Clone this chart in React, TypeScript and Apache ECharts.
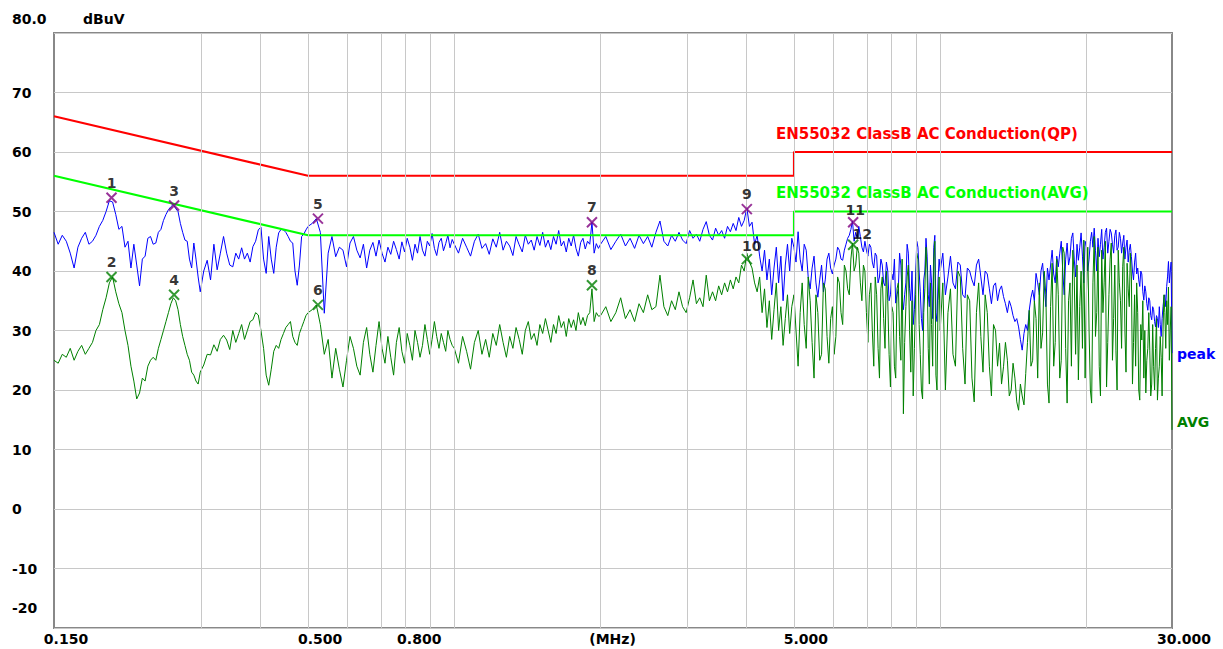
import React, { useEffect, useRef } from "react";
import * as echarts from "echarts";

// ---- sweep frequencies (MHz), listed per band ----
const sweepA = [0.150,0.153,0.156,0.159,0.162,0.165,0.168,0.171,0.174,0.177,0.180,0.183,0.186,0.189,0.192,0.195,0.198,0.201,0.204,0.207,0.210,0.213,0.216,0.219,0.222,0.225,0.228,0.231,0.234,0.237,0.240,0.243,0.246,0.249,0.252,0.255,0.258,0.261,0.264,0.267,0.270,0.273,0.276,0.279,0.282,0.285,0.288,0.291,0.294,0.297];
const sweepB = [0.300,0.305,0.310,0.315,0.320,0.325,0.330,0.335,0.340,0.345,0.350,0.355,0.360,0.365,0.370,0.375,0.380,0.385,0.390,0.395,0.400,0.405,0.410,0.415,0.420,0.425,0.430,0.435,0.440,0.445,0.450,0.455,0.460,0.465,0.470,0.475,0.480,0.485,0.490,0.495];
const sweepC = [0.50,0.51,0.52,0.53,0.54,0.55,0.56,0.57,0.58,0.59,0.60,0.61,0.62,0.63,0.64,0.65,0.66,0.67,0.68,0.69,0.70,0.71,0.72,0.73,0.74,0.75,0.76,0.77,0.78,0.79,0.80,0.81,0.82,0.83,0.84,0.85,0.86,0.87,0.88,0.89,0.90,0.91,0.92,0.93,0.94,0.95,0.96,0.97,0.98,0.99];
const sweepD = [1.00,1.02,1.04,1.06,1.08,1.10,1.12,1.14,1.16,1.18,1.20,1.22,1.24,1.26,1.28,1.30,1.32,1.34,1.36,1.38,1.40,1.42,1.44,1.46,1.48,1.50,1.52,1.54,1.56,1.58,1.60,1.62,1.64,1.66,1.68,1.70,1.72,1.74,1.76,1.78,1.80,1.82,1.84,1.86,1.88,1.90,1.92,1.94,1.96,1.98];
const sweepE = [2.00,2.05,2.10,2.15,2.20,2.25,2.30,2.35,2.40,2.45,2.50,2.55,2.60,2.65,2.70,2.75,2.80,2.85,2.90,2.95,3.00,3.05,3.10,3.15,3.20,3.25,3.30,3.35,3.40,3.45,3.50,3.55,3.60,3.65,3.70,3.75,3.80,3.85,3.90,3.95,4.00,4.05,4.10,4.15,4.20,4.25,4.30,4.35,4.40,4.45,4.50,4.55,4.60,4.65,4.70,4.75,4.80,4.85,4.90,4.95];
const sweepF = [
  5.00,5.05,5.10,5.15,5.20,5.25,5.30,5.35,5.40,5.45,
  5.50,5.55,5.60,5.65,5.70,5.75,5.80,5.85,5.90,5.95,
  6.00,6.05,6.10,6.15,6.20,6.25,6.30,6.35,6.40,6.45,
  6.50,6.55,6.60,6.65,6.70,6.75,6.80,6.85,6.90,6.95,
  7.00,7.05,7.10,7.15,7.20,7.25,7.30,7.35,7.40,7.45,
  7.50,7.55,7.60,7.65,7.70,7.75,7.80,7.85,7.90,7.95,
  8.00,8.05,8.10,8.15,8.20,8.25,8.30,8.35,8.40,8.45,
  8.50,8.55,8.60,8.65,8.70,8.75,8.80,8.85,8.90,8.95,
  9.00,9.05,9.10,9.15,9.20,9.25,9.30,9.35,9.40,9.45,
  9.50,9.55,9.60,9.65,9.70,9.75,9.80,9.85,9.90,9.95];
const sweepG = [
  10,10.125,10.25,10.375,10.5,10.625,10.75,10.875,
  11,11.125,11.25,11.375,11.5,11.625,11.75,11.875,
  12,12.125,12.25,12.375,12.5,12.625,12.75,12.875,
  13,13.125,13.25,13.375,13.5,13.625,13.75,13.875,
  14,14.125,14.25,14.375,14.5,14.625,14.75,14.875,
  15,15.125,15.25,15.375,15.5,15.625,15.75,15.875,
  16,16.125,16.25,16.375,16.5,16.625,16.75,16.875,
  17,17.125,17.25,17.375,17.5,17.625,17.75,17.875,
  18,18.125,18.25,18.375,18.5,18.625,18.75,18.875,
  19,19.125,19.25,19.375,19.5,19.625,19.75,19.875,
  20,20.125,20.25,20.375,20.5,20.625,20.75,20.875,
  21,21.125,21.25,21.375,21.5,21.625,21.75,21.875,
  22,22.125,22.25,22.375,22.5,22.625,22.75,22.875,
  23,23.125,23.25,23.375,23.5,23.625,23.75,23.875,
  24,24.125,24.25,24.375,24.5,24.625,24.75,24.875,
  25,25.125,25.25,25.375,25.5,25.625,25.75,25.875,
  26,26.125,26.25,26.375,26.5,26.625,26.75,26.875,
  27,27.125,27.25,27.375,27.5,27.625,27.75,27.875,
  28,28.125,28.25,28.375,28.5,28.625,28.75,28.875,
  29,29.125,29.25,29.375,29.5,29.625,29.75,29.875,
  30];

// ---- peak detector trace (dBuV) ----
const peakA = [46.5,44.5,46,45,43,40.5,44,45.5,46.5,44.5,45,46,47.5,48.5,50,51.8,51.6,49.5,47,47.5,44,45,40.5,44.5,41,37.5,42,42.5,45.5,45.8,44.5,44.7,46.5,47,48.5,49.5,50.3,50.8,51.2,50.5,50,48,46.5,45.2,45,42,40.5,44.7,42,39];
const peakB = [36.5,40,41.8,38.5,44.5,40.2,43,45.8,43,41,40.7,43,42,43.9,42,43,41.5,44.1,45,46.9,47.4,42,39.6,45.8,42,39.6,44,46.4,47,46.9,46.5,45.8,45,44.7,40,37.6,41,45.8,46.2,46.9];
const peakC = [47.5,48,48.8,46.5,32.9,43,45.8,42.4,44,43.5,40.7,44.7,45.8,43.5,42.2,44.5,40.5,43.5,44.8,42.5,45.2,43,41.5,44,42.8,45,43.6,42,44.9,43.2,45.5,44,41.8,44.5,43,45.8,43.5,42.5,45,44.2,46.3,43.8,42.6,44.8,45.5,43.4,44.6,46,43.9,45.3];
const peakD = [44.5,43,45.5,44,42.5,45,46.2,43.8,44.6,42.8,45.4,44,46.5,43.5,45,44.2,42.6,45.8,44.4,43.2,46,44.5,45.2,43.5,45.8,44.3,46.5,44,45.2,43.6,45.8,44.5,46.8,44.2,45,43.2,45.5,44.2,46,43.8,42.5,44.8,45.5,43.7,45,44.5,48.2,43,44.6,43.8];
const peakE = [44.5,45.8,43.6,45,46.2,44.2,45.5,43.8,46,44.6,45.8,44,46.5,48.4,45,44.2,46,45,46.5,45.2,44.6,46.8,45.5,46.2,45,47,48.3,46,45.2,47.2,46,46.8,45.5,47.5,46.6,48,46.8,49,47.5,48.5,50.6,47.5,48.2,44.5,46,42.5,40,43.5,38.5,42,36,40.5,44,38,42.5,35,41,44.5,40,45.5];
const peakF = [
  44,41.5,46.6,42,40,44.5,43.5,39,37,40.5,
  42.5,38,35.6,38.5,41,36.5,38.5,42,43,40.5,
  39.5,41,42,44,43.5,42,41.8,43.5,44.5,45.5,
  46,47,48.4,45,46.5,45.5,47.5,45.8,44,43.2,
  45,43.5,42.5,44.5,44,41.5,40.5,43,42.5,38,
  39,42,41,38,37.5,41.5,40,35,36,39.5,
  38.5,42,34.6,36,37,43,41,35.5,33.5,36,
  38,44.5,43,37,35,40,31,33.5,39,45,
  44,40,36.5,32,30,38.5,40,45.5,42.5,36,
  34,41,38,32,44,46,33,31.5,38.5,42];
const peakG = [
  40,43,36,39,42.5,38,37,41.5,41,36,
  35.5,40.5,40,38.5,37.5,41,42,39,36,40,
  39.5,37,34.5,37.5,38,35,36.8,37.5,35.7,34.5,
  33,35,34,32.5,31.5,32,30.6,28.5,26.7,29.5,
  31,30,33.4,35.5,36.8,35,39.6,38,36,40,
  41.3,37.5,34,40.5,38.5,41,43.5,39.5,38,42.5,
  40.7,43,45,40,36,42,44.7,41,42.4,45.5,
  46.4,42,39,44.5,41.8,44,46.4,42.5,38,45,
  44.1,40,42,45,46.5,44,47.2,43.5,40,45.5,
  42.4,44.5,47,42,44,46.5,47.2,43,45,47,
  46.4,44.5,43,46,46.9,43.5,44,46.5,45.5,43,
  44.7,46,42,44,45.2,41.5,43.5,44.5,42.4,40,
  38.5,41.5,43,39.5,40.5,38.5,37.4,40,39.5,36.5,
  35.1,37.5,36.5,34.5,33.4,35.5,35,32.5,31.8,34,
  33.5,31.5,30.6,32.5,32,30.5,34,31,29,32,
  34,35.5,36,34,37.4,39,41.6,38,40,41.5,
  26.2];

// ---- average detector trace (dBuV) ----
const avgA = [25,24.5,26,25.5,27,25,26.5,27.5,26,27,28,30,31,33.5,35.5,38,39,36.5,34.5,33,30,27.5,24,21.5,18.5,19.5,22,21.5,24,25,25.5,25,27,28.5,30,31.5,33,34.5,35.5,35,33.5,31,29,27.5,26,25,23,22.5,21.5,21];
const avgB = [23,24.2,26,25.9,27.6,26.5,28.5,29.2,28.4,26.8,30,28,29.5,31,28.5,30,31.5,31.8,33,32.6,30,27,22.5,20.8,23.5,26.5,27.5,27,28.5,29.5,30.5,31,31.5,29,28,27.5,29.5,30.5,31.5,32.5];
const avgC = [33,33.5,34.3,31,26,28.5,22,27,23.5,20.5,25,29,27,24,22.5,28,30.5,26,23,27.5,31.5,27,24.5,29,25.5,22.5,28,30.5,26.5,24.5,29.5,27.5,25,30,28,25.5,27.5,31,28.5,26,28.5,31.5,29,27,29.5,28,26.5,30,28.5,27.5];
const avgD = [27,24.5,29,26.5,23.5,28,30,26,28.5,25.5,29.5,27.5,31,28,25.5,29,27,30.5,28.5,26,30,31.5,28.5,29.5,27.5,31,29.5,32,30,28,31,29.5,32.5,30.5,31.5,29,32,30.5,31.8,30,33,31,32.2,30.8,32.5,33,37,31.5,33,32.4];
const avgE = [32.5,34,31.5,33,35.5,32,33.5,31.5,34.5,33,36,33.5,34,39.3,34,32.5,35,33.5,36.5,34,33,35.5,38.5,34.5,35.5,34,39.3,35,36.5,35,37.5,36,38,36.5,38.5,37,39,38,41,40,43,41.5,40.5,38,36.5,39,33,37,30.5,35,28.5,33.5,38,30,34,27.5,32,36,29.5,34];
const avgF = [
  36,30,24,33,38,31,27,39,35,28,
  22,36,33,25,26,38,37,29,24.5,32,
  34,26,29,39,38,33,31,41,40,37,
  36,42,44.7,40,41,44,43,38,35,41,
  40,33,28,36,38,30,24,39,36,27,
  22,37,39,32,27,40,35,26,20.5,34,
  33,24,22,37,38,29,25,42,16,28,
  34,39,41,30,23,35,19,27,36,43,
  42,31,26,20,18.5,33,37,44,40,27,
  21,38,31,24,42,45,22.5,20,35,39];
const avgG = [
  30,38,20,33,37,26,24,40,39,27,
  21,36,35,22,18,33,38,29,23,36,
  33,24,19,31,30,24,27.9,21,23.9,28,
  25,19,20,24.5,22,18,16.6,21,19,17.5,
  22.8,28,33.4,24,25,35,32,22,38,27,
  29.6,40,36,21,17.8,34,41.3,24,28,42,
  36,22,25,44,43,27,17.8,35,38,24,
  43.5,39,26,41,21.7,34,40,27,45.2,22,
  36.3,44,30,20,17.8,38,45.8,29,33,44,
  23.9,19,43.5,33,38,45,20.5,28,36,42,
  44.7,25,32,41,26.7,20,43.5,38,35,27,
  40.7,44,30,23,41.3,37,34,43,39,21,
  28,36,24,38,33,20,18.3,31,28.4,35,
  22,30,19.5,25,27,33,26.7,19,21,31,
  23.9,20,27,32,18.3,22,24,29,25.5,19,
  30,36,33,27,35,31,37.3,25,30,34,
  13.3];

// ---- limits ----
const limitFreqs = [0.15, 0.5, 5, 5, 30];
const qpLimit = [66, 56, 56, 60, 60];
const avLimit = [56, 46, 46, 50, 50];

// ---- markers ----
const markerIds = ["1","2","3","4","5","6","7","8","9","10","11","12"];
const markerFreqs = [0.197,0.197,0.265,0.265,0.524,0.524,1.92,1.92,4.0,4.0,6.62,6.62];
const markerLevels = [52.3,39.0,51.0,36.0,48.8,34.3,48.2,37.6,50.4,42.0,48.2,44.4];

// ---- axes ----
const gridFreqs = [0.3,0.4,0.5,0.6,0.7,0.8,0.9,1,2,3,4,5,6,7,8,9,10,20];
const xTickFreqs = [0.15, 0.5, 0.8, 2, 5, 30];
const xTickTexts = ["0.150", "0.500", "0.800", "(MHz)", "5.000", "30.000"];
const yTicks = [80, 70, 60, 50, 40, 30, 20, 10, 0, -10, -20];
const yTickTexts = ["80.0", "70", "60", "50", "40", "30", "20", "10", "0", "-10", "-20"];

const FONT = "'DejaVu Sans', 'Liberation Sans', sans-serif";

export default function App() {
  const ref = useRef<HTMLDivElement>(null);

  useEffect(() => {
    const el = ref.current;
    if (!el) return;
    const chart = echarts.init(el, null, { renderer: "svg" });
    const lg = (f: number) => Math.log10(f);

    const freqs = [...sweepA, ...sweepB, ...sweepC, ...sweepD, ...sweepE, ...sweepF, ...sweepG];
    const peak = [...peakA, ...peakB, ...peakC, ...peakD, ...peakE, ...peakF, ...peakG];
    const avg = [...avgA, ...avgB, ...avgC, ...avgD, ...avgE, ...avgF, ...avgG];
    const pts = (fs: number[], vs: number[]) => fs.map((f, i) => [lg(f), vs[i]]);

    const labelNudge: Record<string, number[]> = { "10": [5, 2], "11": [2, 3], "12": [9, 4] };
    const peakMk: any[] = [];
    const avgMk: any[] = [];
    markerIds.forEach((id, i) => {
      const item: any = { name: id, value: [lg(markerFreqs[i]), markerLevels[i]] };
      if (labelNudge[id]) item.label = { offset: labelNudge[id] };
      (i % 2 === 0 ? peakMk : avgMk).push(item);
    });

    const markerSeries = (data: any[], color: string) => ({
      type: "scatter",
      data,
      z: 5,
      silent: true,
      symbol: "path://M0,0L10,10M10,0L0,10",
      symbolSize: 10,
      itemStyle: { color: "rgba(0,0,0,0)", borderColor: color, borderWidth: 2 },
      label: {
        show: true,
        position: "top",
        distance: 2,
        formatter: "{b}",
        color: "#000",
        fontFamily: FONT,
        fontWeight: "bold",
        fontSize: 14,
      },
    });

    const option: any = {
      animation: false,
      backgroundColor: "#ffffff",
      grid: {
        left: 54,
        right: 51,
        top: 33,
        bottom: 21,
        show: true,
        borderColor: "#888888",
        borderWidth: 2,
        backgroundColor: "#ffffff",
      },
      xAxis: {
        type: "value",
        min: lg(0.15),
        max: lg(30),
        show: false,
      },
      yAxis: {
        type: "value",
        min: -20,
        max: 80,
        interval: 10,
        axisLine: { show: false },
        axisTick: { show: false },
        axisLabel: { show: false },
        splitLine: { show: true, lineStyle: { color: "#c8c8c8", width: 1 } },
      },
      series: [
        {
          type: "line",
          z: 1,
          silent: true,
          data: [[lg(0.15), -20]],
          symbol: "none",
          lineStyle: { opacity: 0 },
          markLine: {
            silent: true,
            symbol: ["none", "none"],
            label: { show: false },
            lineStyle: { color: "#c8c8c8", width: 1, type: "solid" },
            emphasis: { disabled: true },
            data: gridFreqs.map((f) => ({ xAxis: lg(f) })),
          },
        },
        {
          name: "peak",
          type: "line",
          z: 2,
          silent: true,
          data: pts(freqs, peak),
          symbol: "none",
          lineStyle: { color: "#0000ff", width: 1 },
        },
        {
          name: "AVG",
          type: "line",
          z: 3,
          silent: true,
          data: pts(freqs, avg),
          symbol: "none",
          lineStyle: { color: "#008000", width: 1 },
        },
        {
          name: "QP limit",
          type: "line",
          z: 4,
          silent: true,
          data: pts(limitFreqs, qpLimit),
          symbol: "none",
          lineStyle: { color: "#ff0000", width: 2 },
        },
        {
          name: "AVG limit",
          type: "line",
          z: 4,
          silent: true,
          data: pts(limitFreqs, avLimit),
          symbol: "none",
          lineStyle: { color: "#00ff00", width: 2 },
        },
        markerSeries(peakMk, "#800080"),
        markerSeries(avgMk, "#008000"),
      ],
    };
    chart.setOption(option);

    const px = (f: number, v: number) => chart.convertToPixel({ gridIndex: 0 }, [lg(f), v]) as number[];
    const txt = (text: string, x: number, y: number, color: string, size: number, align = "left") => ({
      type: "text",
      x,
      y,
      silent: true,
      z: 10,
      style: {
        text,
        fill: color,
        font: `bold ${size}px ${FONT}`,
        align,
        textAlign: align,
        verticalAlign: "middle",
        textVerticalAlign: "middle",
      },
    });

    const graphics: any[] = [];
    const yNudge: Record<string, number> = { "80": -14, "-20": -20 };
    yTicks.forEach((v, i) => {
      const p = px(0.15, v);
      graphics.push(txt(yTickTexts[i], 12, p[1] + (yNudge[String(v)] || 0), "#000", 14));
    });
    xTickFreqs.forEach((f, i) => {
      const p = px(f, -20);
      graphics.push(txt(xTickTexts[i], p[0] + 12, p[1] + 11, "#000", 14, "center"));
    });
    const corner = px(0.15, 80);
    graphics.push(txt("dBuV", corner[0] + 29, corner[1] - 14, "#000", 14));
    const qpAnchor = px(5, 60);
    graphics.push(txt("EN55032 ClassB AC Conduction(QP)", qpAnchor[0] - 18, qpAnchor[1] - 18, "#ff0000", 15));
    const avAnchor = px(5, 50);
    graphics.push(txt("EN55032 ClassB AC Conduction(AVG)", avAnchor[0] - 18, avAnchor[1] - 19, "#00ff00", 15));
    const peakEnd = px(30, peak[peak.length - 1]);
    graphics.push(txt("peak", peakEnd[0] + 5, peakEnd[1] + 1, "#0000ff", 14));
    const avgEnd = px(30, avg[avg.length - 1]);
    graphics.push(txt("AVG", avgEnd[0] + 5, avgEnd[1] - 8, "#008000", 14));

    chart.setOption({ graphic: graphics });

    return () => {
      chart.dispose();
    };
  }, []);

  return (
    <div
      ref={ref}
      style={{ position: "fixed", left: 0, top: 0, width: 1223, height: 649, background: "#ffffff" }}
    />
  );
}
